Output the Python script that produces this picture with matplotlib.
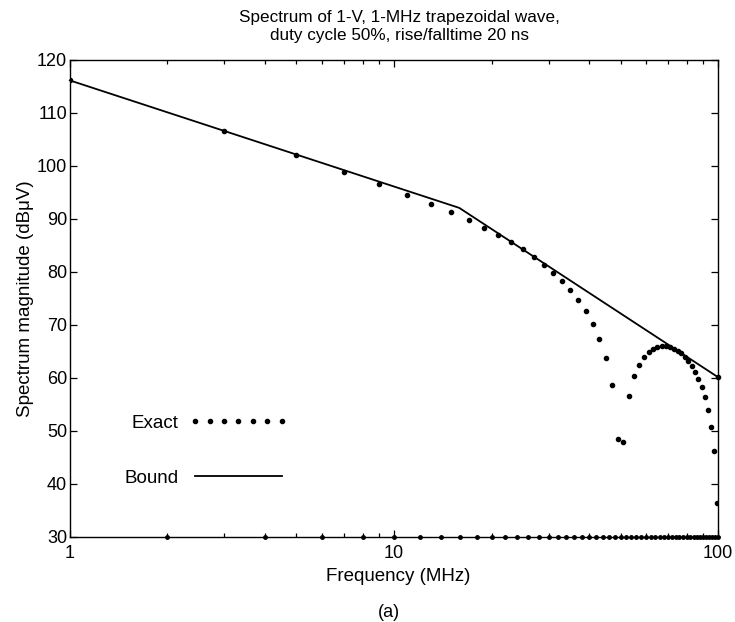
import matplotlib.pyplot as plt
from matplotlib.ticker import FixedLocator, LogLocator, NullFormatter

plt.rcParams['font.family'] = ['Liberation Sans', 'DejaVu Sans']

# odd harmonics (MHz) and their spectrum level (dBuV)
odd_freq = list(range(1, 100, 2))
odd_db = [116.1, 106.5, 102.0, 98.9, 96.5, 94.5, 92.8, 91.2, 89.8, 88.3,
          87.0, 85.6, 84.2, 82.8, 81.3, 79.8, 78.2, 76.5, 74.6, 72.6,
          70.2, 67.4, 63.8, 58.7, 48.5, 47.8, 56.6, 60.3, 62.5, 63.9,
          64.8, 65.4, 65.8, 65.9, 65.9, 65.8, 65.5, 65.1, 64.6, 63.9,
          63.1, 62.2, 61.1, 59.8, 58.2, 56.3, 54.0, 50.8, 46.1, 36.3]

# even harmonics are zero -> sit on the bottom of the plot
even_freq = list(range(2, 101, 2))
even_db = [30] * len(even_freq)

# bound: -20 dB/dec up to 1/(pi*tr), then -40 dB/dec
bound_freq = [1, 15.9, 100]
bound_db = [116.1, 92.05, 60.1]

fig = plt.figure(figsize=(7.35, 6.22), dpi=100)
ax = fig.add_axes([0.095, 0.137, 0.882, 0.767])

ax.plot(odd_freq, odd_db, 'o', color='black', ms=3, ls='none', label='Exact')
ax.plot(even_freq, even_db, 'o', color='black', ms=2.5, ls='none', clip_on=False)
ax.plot(bound_freq, bound_db, '-', color='black', lw=1.3, marker='o', ms=3,
        markevery=[2], clip_on=False)
ax.plot([], [], '-', color='black', lw=1.3, label='Bound')

ax.set_xscale('log')
ax.set_xlim(1, 100)
ax.set_ylim(30, 120)
ax.xaxis.set_major_locator(FixedLocator([1, 10, 100]))
ax.set_xticklabels(['1', '10', '100'])
ax.xaxis.set_minor_locator(LogLocator(base=10, subs=range(2, 10)))
ax.xaxis.set_minor_formatter(NullFormatter())
ax.set_yticks(range(30, 121, 10))
ax.tick_params(which='both', direction='in', top=True, right=True,
               labelsize=13, width=0.9)
ax.tick_params(which='major', length=5)
ax.tick_params(axis='x', which='major', pad=6)
ax.tick_params(axis='y', which='major', pad=2)
ax.tick_params(which='minor', length=3)
for s in ax.spines.values():
    s.set_linewidth(1.0)

ax.set_xlabel('Frequency (MHz)', fontsize=13.5, labelpad=4, x=0.507)
ax.set_ylabel('Spectrum magnitude (dBμV)', fontsize=13.5, labelpad=2)
ax.set_title('Spectrum of 1-V, 1-MHz trapezoidal wave,\nduty cycle 50%, rise/falltime 20 ns',
             fontsize=12.3, pad=14, linespacing=1.3, x=0.509)
fig.text(0.529, 0.008, '(a)', ha='center', fontsize=13)

ax.legend(loc='lower left', bbox_to_anchor=(0.058, 0.07), frameon=False,
          markerfirst=False, numpoints=7, handlelength=5.2, labelspacing=2.0,
          fontsize=13.5, handletextpad=0.6)

fig.savefig('out.png', dpi=100)
